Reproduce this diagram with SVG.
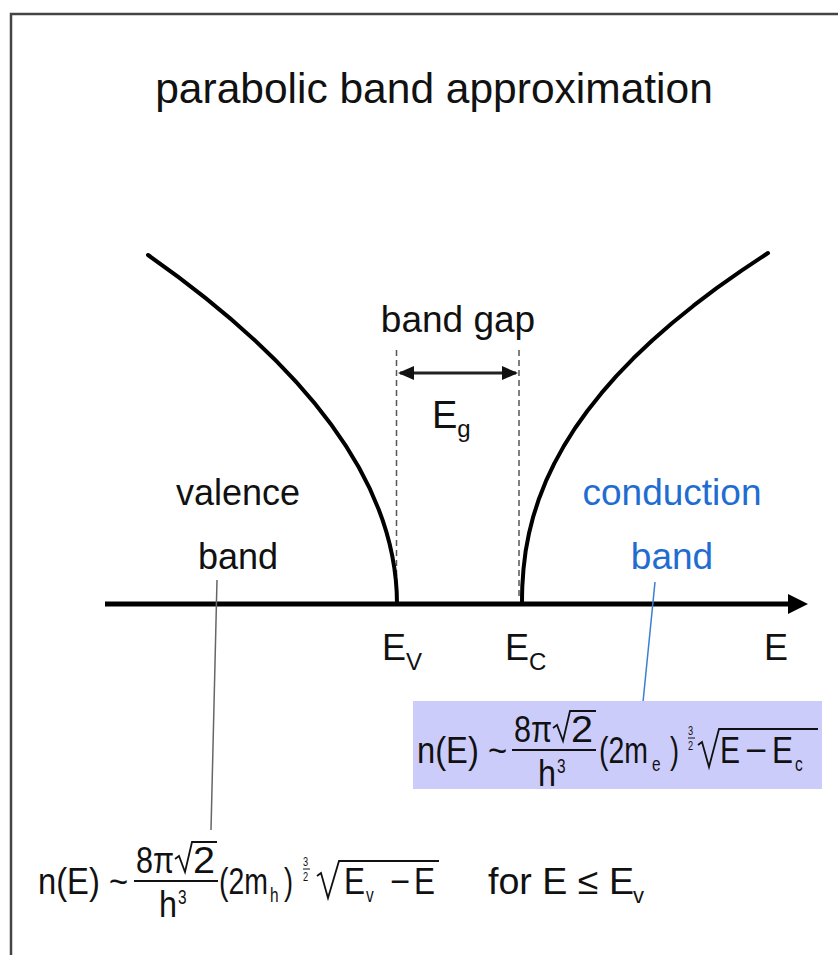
<svg xmlns="http://www.w3.org/2000/svg" width="838" height="955" viewBox="0 0 838 955">
<defs>
<style>
.t{font-family:"Liberation Sans",Arial,sans-serif;fill:#111;}
.f{font-family:"Liberation Sans",Arial,sans-serif;fill:#111;font-size:37px;}
.s{font-size:20px;}
.tiny{font-size:12px;}
.rad{fill:none;stroke:#111;stroke-width:1.8;stroke-linejoin:miter;}
.curve{fill:none;stroke:#000;stroke-width:4;stroke-linecap:round;stroke-linejoin:round;}
.dash{stroke:#555;stroke-width:1.5;stroke-dasharray:6,4;fill:none;}
</style>
<marker id="axisHead" markerUnits="userSpaceOnUse" markerWidth="20" markerHeight="20" viewBox="0 0 20 20" refX="2" refY="10" orient="auto">
<path d="M0,0 L20,10 L0,20 Z" fill="#000"/>
</marker>
<marker id="gapHead" markerUnits="userSpaceOnUse" markerWidth="16" markerHeight="14" viewBox="0 0 16 14" refX="14" refY="7" orient="auto-start-reverse">
<path d="M0,0 L16,7 L0,14 Z" fill="#111"/>
</marker>
</defs>
<rect x="0" y="0" width="838" height="955" fill="#fff"/>
<rect x="11" y="14" width="900" height="1000" fill="none" stroke="#444" stroke-width="2.5"/>

<g id="title">
<text class="t" x="434" y="103" font-size="42.5" text-anchor="middle">parabolic band approximation</text>
</g>

<g id="connectors">
<line x1="105" y1="604" x2="790" y2="604" stroke="#000" stroke-width="5" marker-end="url(#axisHead)"/>
<line class="dash" x1="396.5" y1="350" x2="396.5" y2="600"/>
<line class="dash" x1="519" y1="350" x2="519" y2="600"/>
<line x1="400" y1="373" x2="516" y2="373" stroke="#222" stroke-width="3" marker-start="url(#gapHead)" marker-end="url(#gapHead)"/>
<line x1="217" y1="580" x2="211" y2="830" stroke="#666" stroke-width="1.5"/>
<line x1="655" y1="582" x2="643" y2="702" stroke="#3a7fd6" stroke-width="1.5"/>
</g>

<g id="valence-curve">
<path class="curve" d="M397,604 Q397,429.5 148,255"/>
</g>
<g id="conduction-curve">
<path class="curve" d="M522,604 L522.07,595.2 L522.3,586.5 L523.5,568.9 L525.6,551.4 L528.9,533.8 L533.3,516.3 L539,498.7 L545.9,481.2 L554.2,463.6 L563.8,446.1 L574.8,428.5 L587.3,411 L601.2,393.4 L616.5,375.9 L633.4,358.3 L651.9,340.8 L671.9,323.2 L693.5,305.7 L716.6,288.1 L741.5,270.6 L768,253"/>
</g>

<g id="band-gap">
<text class="t" x="458" y="332" font-size="37" text-anchor="middle">band gap</text>
<text class="t" x="432" y="428" font-size="38">E<tspan font-size="24" dy="9">g</tspan></text>
</g>

<g id="valence-label">
<text class="t" x="238" y="505" font-size="36" text-anchor="middle">valence</text>
<text class="t" x="238" y="569" font-size="36" text-anchor="middle">band</text>
</g>

<g id="conduction-label">
<text class="t" x="672" y="505" font-size="37" text-anchor="middle" style="fill:#1f6dd1">conduction</text>
<text class="t" x="672" y="569" font-size="37" text-anchor="middle" style="fill:#1f6dd1">band</text>
</g>

<g id="axis-labels">
<text class="t" x="382" y="660" font-size="36">E<tspan font-size="24" dy="10">V</tspan></text>
<text class="t" x="505" y="660" font-size="36">E<tspan font-size="24" dy="10">C</tspan></text>
<text class="t" x="764" y="660" font-size="36">E</text>
</g>

<g id="conduction-formula">
<rect x="413" y="701" width="409" height="88" fill="#ccccfa"/>
<path class="rad" d="M553,728 L557,725 L563,741 L570,711 L596,711"/>
<line x1="512" y1="750" x2="596" y2="750" stroke="#111" stroke-width="2"/>
<line x1="688" y1="738" x2="695" y2="738" stroke="#111" stroke-width="1"/>
<path class="rad" d="M698,745 L702,742 L709,767 L719,729 L818,729"/>
<text class="f" transform="matrix(0.77,0,0,1,0,0)"><tspan x="541.6" y="763" textLength="116.9" lengthAdjust="spacingAndGlyphs">n(E) ~</tspan><tspan x="667.5" y="742" textLength="49.4" lengthAdjust="spacingAndGlyphs">8π</tspan><tspan x="741.6" y="742" textLength="28.6" lengthAdjust="spacingAndGlyphs">2</tspan><tspan x="698.7" y="786" textLength="23.4" lengthAdjust="spacingAndGlyphs">h</tspan><tspan class="s" x="723.4" y="773">3</tspan><tspan x="777.9" y="763" textLength="63.6" lengthAdjust="spacingAndGlyphs">(2m</tspan><tspan class="s" x="846.8" y="771">e</tspan><tspan x="870.1" y="763" textLength="11.7" lengthAdjust="spacingAndGlyphs">)</tspan><tspan class="tiny" x="893.5" y="735">3</tspan><tspan class="tiny" x="893.5" y="750">2</tspan><tspan x="935.1" y="763" textLength="26" lengthAdjust="spacingAndGlyphs">E</tspan><tspan x="967.5" y="763" textLength="28.6" lengthAdjust="spacingAndGlyphs">−</tspan><tspan x="1002.6" y="763" textLength="27.3" lengthAdjust="spacingAndGlyphs">E</tspan><tspan class="s" x="1032.5" y="771">c</tspan></text>
</g>

<g id="valence-formula">
<path class="rad" d="M175,859 L179,856 L185,872 L192,842 L217,842"/>
<line x1="134" y1="881" x2="218" y2="881" stroke="#111" stroke-width="2"/>
<line x1="303" y1="869" x2="310" y2="869" stroke="#111" stroke-width="1"/>
<path class="rad" d="M317,876 L321,873 L328,898 L339,861 L439,861"/>
<text class="f" transform="matrix(0.77,0,0,1,0,0)"><tspan x="49.4" y="894" textLength="116.9" lengthAdjust="spacingAndGlyphs">n(E) ~</tspan><tspan x="176.6" y="873" textLength="49.4" lengthAdjust="spacingAndGlyphs">8π</tspan><tspan x="250.6" y="873" textLength="28.6" lengthAdjust="spacingAndGlyphs">2</tspan><tspan x="206.5" y="917" textLength="23.4" lengthAdjust="spacingAndGlyphs">h</tspan><tspan class="s" x="231.2" y="904">3</tspan><tspan x="284.4" y="894" textLength="63.6" lengthAdjust="spacingAndGlyphs">(2m</tspan><tspan class="s" x="350.6" y="902">h</tspan><tspan x="368.8" y="894" textLength="11.7" lengthAdjust="spacingAndGlyphs">)</tspan><tspan class="tiny" x="393.5" y="866">3</tspan><tspan class="tiny" x="393.5" y="881">2</tspan><tspan x="446.8" y="894" textLength="27.3" lengthAdjust="spacingAndGlyphs">E</tspan><tspan class="s" x="475.3" y="902">v</tspan><tspan x="506.5" y="894" textLength="26" lengthAdjust="spacingAndGlyphs">−</tspan><tspan x="537.7" y="894" textLength="27.3" lengthAdjust="spacingAndGlyphs">E</tspan></text>
<text class="t" font-size="37"><tspan x="488" y="894" textLength="146" lengthAdjust="spacingAndGlyphs">for E ≤ E</tspan><tspan font-size="22" x="633" y="903">v</tspan></text>
</g>
</svg>
